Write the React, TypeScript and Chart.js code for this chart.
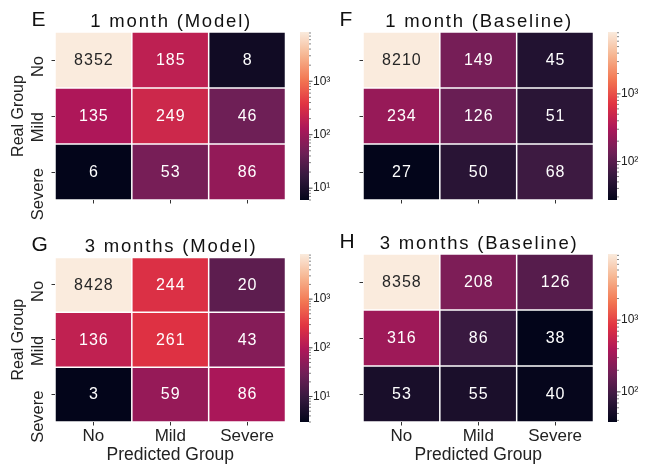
import React, { useEffect, useRef } from 'react';
import { Chart, registerables } from 'chart.js';

Chart.register(...registerables);

const FONT = '"Liberation Sans", Arial, Helvetica, sans-serif';
Chart.defaults.font.family = FONT;
Chart.defaults.color = '#262626';

// ---------------- data ----------------
const rowLabels = ['No', 'Mild', 'Severe'];
const colLabels = ['No', 'Mild', 'Severe'];
const yAxisTitle = 'Real Group';
const xAxisTitle = 'Predicted Group';

const model1MonthNo = [8352, 185, 8];
const model1MonthMild = [135, 249, 46];
const model1MonthSevere = [6, 53, 86];

const baseline1MonthNo = [8210, 149, 45];
const baseline1MonthMild = [234, 126, 51];
const baseline1MonthSevere = [27, 50, 68];

const model3MonthsNo = [8428, 244, 20];
const model3MonthsMild = [136, 261, 43];
const model3MonthsSevere = [3, 59, 86];

const baseline3MonthsNo = [8358, 208, 126];
const baseline3MonthsMild = [316, 86, 38];
const baseline3MonthsSevere = [53, 55, 40];

const panelTitles = ['1 month (Model)', '1 month (Baseline)', '3 months (Model)', '3 months (Baseline)'];
const panelLetters = ['E', 'F', 'G', 'H'];

// seaborn "rocket" colormap samples
const rocketStops: [number, string][] = [
  [0, '#03051a'],
  [1 / 7, '#35193e'],
  [2 / 7, '#701f57'],
  [3 / 7, '#ad1759'],
  [4 / 7, '#e13342'],
  [5 / 7, '#f37651'],
  [6 / 7, '#f6b48f'],
  [1, '#faebdd'],
];

function hexToRgb(h: string): number[] {
  return [parseInt(h.slice(1, 3), 16), parseInt(h.slice(3, 5), 16), parseInt(h.slice(5, 7), 16)];
}

function rocket(t: number): number[] {
  const tt = Math.max(0, Math.min(1, t));
  for (let i = 0; i < rocketStops.length - 1; i++) {
    const [t0, c0] = rocketStops[i];
    const [t1, c1] = rocketStops[i + 1];
    if (tt <= t1) {
      const f = (tt - t0) / (t1 - t0);
      const a = hexToRgb(c0), b = hexToRgb(c1);
      return a.map((v, k) => Math.round(v + (b[k] - v) * f));
    }
  }
  return hexToRgb(rocketStops[rocketStops.length - 1][1]);
}

function rgbStr(c: number[]) {
  return `rgb(${c[0]},${c[1]},${c[2]})`;
}

function textColorFor(c: number[]) {
  const lin = c.map((v) => {
    const s = v / 255;
    return s <= 0.03928 ? s / 12.92 : Math.pow((s + 0.055) / 1.055, 2.4);
  });
  const lum = 0.2126 * lin[0] + 0.7152 * lin[1] + 0.0722 * lin[2];
  return lum > 0.408 ? '#262626' : '#ffffff';
}

const SUP = ['⁰', '¹', '²', '³', '⁴', '⁵', '⁶', '⁷', '⁸', '⁹'];

function logTicks(min: number, max: number) {
  const out: { value: number; major: boolean }[] = [];
  for (let k = Math.floor(Math.log10(min)); k <= Math.ceil(Math.log10(max)); k++) {
    for (let m = 1; m <= 9; m++) {
      const v = m * Math.pow(10, k);
      if (v >= min && v <= max) out.push({ value: v, major: m === 1 });
    }
  }
  return out;
}

// ---------------- layout ----------------
const W = 296;
const H = 234;
const AREA_LEFT = 55;
const AREA_RIGHT = 285.5;

type PanelProps = {
  rows: number[][];
  title: string;
  letter: string;
  offsetX: number;
  offsetY: number;
  bottomRow: boolean;
  leftCol: boolean;
};

function Panel({ rows, title, letter, offsetX, offsetY, bottomRow, leftCol }: PanelProps) {
  const heatRef = useRef<HTMLCanvasElement>(null);
  const barRef = useRef<HTMLCanvasElement>(null);

  useEffect(() => {
    const flat = rows.flat();
    const vmin = Math.min(...flat);
    const vmax = Math.max(...flat);
    const lmin = Math.log10(vmin);
    const lmax = Math.log10(vmax);
    const colorOf = (v: number) => rocket((Math.log10(v) - lmin) / (lmax - lmin));
    const areaTop = bottomRow ? 20 : 32;
    const areaBottom = bottomRow ? 188 : 200;

    const annotPlugin = {
      id: 'annot',
      afterDatasetsDraw(chart: any) {
        const ctx = chart.ctx;
        ctx.save();
        ctx.font = `16px ${FONT}`;
        (ctx as any).letterSpacing = '1px';
        ctx.textAlign = 'center';
        ctx.textBaseline = 'middle';
        chart.data.datasets.forEach((_ds: any, r: number) => {
          const meta = chart.getDatasetMeta(r);
          meta.data.forEach((el: any, c: number) => {
            const v = rows[r][c];
            const p = el.getProps(['x', 'y', 'base'], true);
            ctx.fillStyle = textColorFor(colorOf(v));
            ctx.fillText(String(v), p.x + 0.5, (p.y + p.base) / 2 + 0.5);
          });
        });
        ctx.restore();
      },
      afterDraw(chart: any) {
        const ctx = chart.ctx;
        const a = chart.chartArea;
        ctx.save();
        ctx.fillStyle = '#111111';
        ctx.textBaseline = 'alphabetic';
        ctx.textAlign = 'center';
        ctx.font = `18.5px ${FONT}`;
        (ctx as any).letterSpacing = '1.8px';
        ctx.fillText(title, (a.left + a.right) / 2 + 0.9, a.top - 5.5);
        (ctx as any).letterSpacing = '0px';
        ctx.textAlign = 'left';
        ctx.font = `21px ${FONT}`;
        ctx.fillText(letter, a.left - 23.5, a.top - 6.5);
        ctx.restore();
      },
    };

    const tickGrid = {
      display: true,
      drawOnChartArea: false,
      drawTicks: true,
      tickLength: 3.5,
      tickWidth: 1,
      tickColor: '#333333',
      offset: false,
    };

    const heat = new Chart(heatRef.current as HTMLCanvasElement, {
      type: 'bar',
      data: {
        labels: colLabels,
        datasets: rows.map((row, r) => ({
          data: row.map(() => [r, r + 1]),
          backgroundColor: row.map((v) => rgbStr(colorOf(v))),
          borderColor: '#ffffff',
          borderWidth: 0.75,
          borderSkipped: false,
          grouped: false,
          barPercentage: 1,
          categoryPercentage: 1,
          inflateAmount: 0,
        })),
      } as any,
      options: {
        responsive: false,
        animation: false,
        layout: { padding: { left: 0, right: W - AREA_RIGHT, top: areaTop, bottom: 0 } },
        plugins: { legend: { display: false }, tooltip: { enabled: false }, title: { display: false } },
        scales: {
          x: {
            type: 'category',
            offset: true,
            grid: tickGrid,
            border: { display: false },
            ticks: {
              display: bottomRow,
              padding: 0.8,
              color: '#222222',
              font: { size: 17 },
              maxRotation: 0,
              minRotation: 0,
              autoSkip: false,
            },
            title: {
              display: bottomRow,
              text: xAxisTitle,
              color: '#222222',
              font: { size: 17.5 },
              padding: { top: 0, bottom: 2.5 },
            },
            afterFit: (s: any) => {
              s.height = H - areaBottom;
            },
          },
          y: {
            type: 'linear',
            min: 0,
            max: rowLabels.length,
            reverse: true,
            afterBuildTicks: (s: any) => {
              s.ticks = rowLabels.map((_l, i) => ({ value: i + 0.5 }));
            },
            grid: tickGrid,
            border: { display: false },
            ticks: {
              display: leftCol,
              callback: (_v: any, i: number) => rowLabels[i],
              minRotation: 90,
              maxRotation: 90,
              padding: 13.5,
              labelOffset: -4,
              color: '#222222',
              font: { size: 16.5 },
              autoSkip: false,
            },
            title: {
              display: leftCol,
              text: yAxisTitle,
              color: '#222222',
              font: { size: 16 },
              padding: { top: 9.4, bottom: 0 },
            },
            afterFit: (s: any) => {
              s.width = AREA_LEFT;
            },
          },
        },
      } as any,
      plugins: [annotPlugin],
    });

    const CBW = 40;
    const cbLeft = 8;
    const cbRight = 17;

    const gradPlugin = {
      id: 'grad',
      beforeDatasetsDraw(chart: any) {
        const ctx = chart.ctx;
        const a = chart.chartArea;
        const g = ctx.createLinearGradient(0, a.bottom, 0, a.top);
        for (let i = 0; i <= 40; i++) {
          const t = i / 40;
          g.addColorStop(t, rgbStr(rocket(t)));
        }
        ctx.save();
        ctx.fillStyle = g;
        ctx.fillRect(a.left, a.top, a.right - a.left, a.bottom - a.top);
        ctx.restore();
      },
      afterDraw(chart: any) {
        const ctx = chart.ctx;
        const a = chart.chartArea;
        const scale = chart.scales.y;
        ctx.save();
        ctx.strokeStyle = '#333333';
        scale.ticks.forEach((t: any) => {
          const y = scale.getPixelForValue(t.value);
          const major = t.major;
          ctx.lineWidth = major ? 0.9 : 0.6;
          ctx.beginPath();
          ctx.moveTo(a.right, y);
          ctx.lineTo(a.right + (major ? 3.5 : 2), y);
          ctx.stroke();
        });
        ctx.restore();
      },
    };

    const bar = new Chart(barRef.current as HTMLCanvasElement, {
      type: 'scatter',
      data: { datasets: [] },
      options: {
        responsive: false,
        animation: false,
        layout: { padding: { left: cbLeft, right: 0, top: areaTop, bottom: H - areaBottom } },
        plugins: { legend: { display: false }, tooltip: { enabled: false } },
        scales: {
          x: { display: false },
          y: {
            type: 'logarithmic',
            position: 'right',
            min: vmin,
            max: vmax,
            afterBuildTicks: (s: any) => {
              s.ticks = logTicks(vmin, vmax);
            },
            grid: {
              display: true,
              drawOnChartArea: false,
              drawTicks: true,
              tickLength: 3.5,
              tickColor: 'rgba(0,0,0,0)',
            },
            border: { display: false },
            ticks: {
              autoSkip: false,
              padding: 0.5,
              color: '#222222',
              font: { size: 12 },
              callback: (v: any) => {
                const e = Math.log10(Number(v));
                if (Math.abs(e - Math.round(e)) < 1e-9) return '10' + SUP[Math.round(e)];
                return '';
              },
            },
            afterFit: (s: any) => {
              s.width = CBW - cbRight;
            },
          },
        },
      } as any,
      plugins: [gradPlugin],
    });

    return () => {
      heat.destroy();
      bar.destroy();
    };
  }, []);

  return (
    <>
      <canvas
        ref={heatRef}
        width={W}
        height={H}
        style={{ position: 'absolute', left: offsetX, top: offsetY, width: W, height: H }}
      />
      <canvas
        ref={barRef}
        width={40}
        height={H}
        style={{ position: 'absolute', left: offsetX + 292, top: offsetY, width: 40, height: H }}
      />
    </>
  );
}

export default function App() {
  const panels = [
    { rows: [model1MonthNo, model1MonthMild, model1MonthSevere], x: 0, y: 0, bottomRow: false, leftCol: true },
    { rows: [baseline1MonthNo, baseline1MonthMild, baseline1MonthSevere], x: 308, y: 0, bottomRow: false, leftCol: false },
    { rows: [model3MonthsNo, model3MonthsMild, model3MonthsSevere], x: 0, y: 234, bottomRow: true, leftCol: true },
    { rows: [baseline3MonthsNo, baseline3MonthsMild, baseline3MonthsSevere], x: 308, y: 234, bottomRow: true, leftCol: false },
  ];
  return (
    <div
      style={{
        position: 'absolute',
        left: 0,
        top: 0,
        width: 660,
        height: 468,
        background: '#ffffff',
        overflow: 'hidden',
      }}
    >
      {panels.map((p, i) => (
        <Panel
          key={i}
          rows={p.rows}
          title={panelTitles[i]}
          letter={panelLetters[i]}
          offsetX={p.x}
          offsetY={p.y}
          bottomRow={p.bottomRow}
          leftCol={p.leftCol}
        />
      ))}
    </div>
  );
}
